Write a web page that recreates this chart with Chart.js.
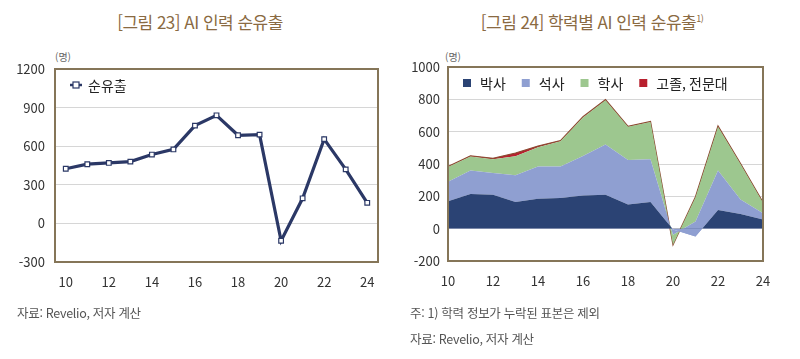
<!DOCTYPE html>
<html lang="ko">
<head>
<meta charset="utf-8">
<script src="https://cdn.jsdelivr.net/npm/chart.js@4.4.0/dist/chart.umd.min.js"></script>
<style>
  body { margin: 0; width: 800px; height: 359px; background: #fff; position: relative; overflow: hidden;
         font-family: "Noto Sans CJK KR", sans-serif; }
  .title { position: absolute; top: 9px; width: 400px; text-align: center; font-size: 17px; color: #8a6a42; letter-spacing: -0.5px; }
  .title sup { font-size: 9px; }
  .unit { position: absolute; top: 49px; font-size: 10px; color: #666; }
  .note { position: absolute; font-size: 12.5px; color: #555; letter-spacing: -0.3px; }
  .box { position: absolute; top: 40px; width: 400px; height: 280px; }
  canvas { display: block; }
</style>
</head>
<body>
<div class="title" style="left:0">[그림 23] AI 인력 순유출</div>
<div class="title" style="left:392px">[그림 24] 학력별 AI 인력 순유출<sup>1)</sup></div>
<div class="unit" style="left:55px">(명)</div>
<div class="unit" style="left:445px">(명)</div>
<div class="box" style="left:0"><canvas id="left" width="400" height="280"></canvas></div>
<div class="box" style="left:400px"><canvas id="right" width="400" height="280"></canvas></div>
<div class="note" style="left:17px; top:303px">자료: Revelio, 저자 계산</div>
<div class="note" style="left:410px; top:303px">주: 1) 학력 정보가 누락된 표본은 제외</div>
<div class="note" style="left:410px; top:329px">자료: Revelio, 저자 계산</div>
<script>
// 연도 (2010~2024)
const years = ['10', '11', '12', '13', '14', '15', '16', '17', '18', '19', '20', '21', '22', '23', '24'];

// [그림 23] 순유출
const netOutflow = [425, 460, 470, 480, 535, 575, 760, 840, 685, 690, -135, 195, 655, 420, 160];

// [그림 24] 학력별
const phd = [170, 215, 210, 165, 185, 190, 205, 210, 150, 165, -5, -48, 115, 90, 57];
const master = [120, 145, 135, 165, 200, 195, 245, 310, 275, 265, -32, 93, 245, 90, 38];
const bachelor = [92, 87, 85, 118, 118, 155, 238, 275, 205, 230, -63, 150, 270, 220, 65];
const highSchool = [3, 4, 5, 20, 8, 5, 5, 3, 3, 3, 0, 3, 5, 3, 3];

const leftTicks = { min: -300, max: 1200, step: 300 };
const rightTicks = { min: -200, max: 1000, step: 200 };

const FONT = '"Noto Sans CJK KR", sans-serif';
const FRAME = '#857558';

// 외곽 테두리
const framePlugin = {
    id: 'frame',
    afterDatasetsDraw(chart) {
        const { ctx, chartArea: a } = chart;
        ctx.save();
        ctx.strokeStyle = FRAME;
        ctx.lineWidth = 2;
        ctx.strokeRect(a.left, a.top, a.right - a.left, a.bottom - a.top);
        ctx.restore();
    }
};

// 범례 (순유출)
const lineLegend = {
    id: 'lineLegend',
    afterDraw(chart) {
        const { ctx, chartArea: a } = chart;
        const ds = chart.data.datasets[0];
        const x = a.left + 15, y = a.top + 16;
        ctx.save();
        ctx.strokeStyle = ds.borderColor;
        ctx.lineWidth = 2.5;
        ctx.beginPath(); ctx.moveTo(x, y); ctx.lineTo(x + 12, y); ctx.stroke();
        ctx.fillStyle = '#fff'; ctx.lineWidth = 1.2;
        ctx.fillRect(x + 3, y - 3, 6, 6); ctx.strokeRect(x + 3, y - 3, 6, 6);
        ctx.fillStyle = '#222';
        ctx.font = '14px ' + FONT;
        ctx.textBaseline = 'middle';
        ctx.fillText(ds.label, x + 18, y + 1);
        ctx.restore();
    }
};

// 범례 (학력별)
const boxLegend = {
    id: 'boxLegend',
    afterDraw(chart) {
        const { ctx, chartArea: a } = chart;
        let x = a.left + 15;
        const y = a.top + 16;
        ctx.save();
        ctx.font = '14px ' + FONT;
        ctx.textBaseline = 'middle';
        chart.data.datasets.forEach(ds => {
            ctx.fillStyle = ds.legendColor;
            ctx.fillRect(x, y - 4, 8, 8);
            ctx.fillStyle = '#222';
            ctx.fillText(ds.label, x + 17, y + 1);
            x += 17 + ctx.measureText(ds.label).width + 16;
        });
        ctx.restore();
    }
};

function evenLabels(value, index) {
    return index % 2 === 0 ? this.getLabelForValue(value) : '';
}
function plainNumber(value) {
    return String(value);
}

const tickFont = { family: FONT, size: 13 };

function xAxis(offset) {
    return {
        offset,
        grid: { display: false, drawTicks: false },
        border: { display: false },
        ticks: { autoSkip: false, maxRotation: 0, padding: 12, color: '#333', font: tickFont, callback: evenLabels },
        afterFit(s) { s.height = 30; }
    };
}

new Chart(document.getElementById('left'), {
    type: 'line',
    data: {
        labels: years,
        datasets: [{
            label: '순유출',
            data: netOutflow,
            borderColor: '#2b3866',
            borderWidth: 3.2,
            pointStyle: 'rect',
            pointRadius: 3.3,
            pointBackgroundColor: '#fff',
            pointBorderColor: '#2b3866',
            pointBorderWidth: 1.2,
            tension: 0
        }]
    },
    options: {
        responsive: false,
        animation: false,
        layout: { padding: { top: 29, right: 22, bottom: 28, left: 0 } },
        plugins: { legend: { display: false }, tooltip: { enabled: false } },
        scales: {
            x: xAxis(true),
            y: {
                min: leftTicks.min, max: leftTicks.max,
                grid: { color: '#d6d6d6', lineWidth: 1, drawTicks: false },
                border: { display: false },
                ticks: { stepSize: leftTicks.step, padding: 10, color: '#333', font: tickFont, callback: plainNumber },
                afterFit(s) { s.width = 55; }
            }
        }
    },
    plugins: [framePlugin, lineLegend]
});

function area(label, data, color, fill, border) {
    return {
        label, data, fill,
        legendColor: color,
        backgroundColor: color,
        borderColor: border || color,
        borderWidth: border ? 1.2 : 0,
        pointRadius: 0,
        tension: 0
    };
}

const navy = '#2b4374', lightBlue = '#8f9fd1';

new Chart(document.getElementById('right'), {
    type: 'line',
    data: {
        labels: years,
        datasets: [
            // 음수 구간은 석사 영역에 가려지므로 below 색을 석사 색으로
            area('박사', phd, navy, { target: 'origin', above: navy, below: lightBlue }),
            area('석사', master, lightBlue, '-1'),
            area('학사', bachelor, '#9dc78f', '-1'),
            area('고졸, 전문대', highSchool, '#b8202e', '-1', '#8c4a32')
        ]
    },
    options: {
        responsive: false,
        animation: false,
        layout: { padding: { top: 27, right: 37, bottom: 29, left: 0 } },
        plugins: { legend: { display: false }, tooltip: { enabled: false } },
        scales: {
            x: xAxis(false),
            y: {
                stacked: 'single',
                min: rightTicks.min, max: rightTicks.max,
                grid: { color: '#d6d6d6', lineWidth: 1, drawTicks: false },
                border: { display: false },
                ticks: { stepSize: rightTicks.step, padding: 8, color: '#333', font: tickFont, callback: plainNumber },
                afterFit(s) { s.width = 48; }
            }
        }
    },
    plugins: [framePlugin, boxLegend]
});
</script>
</body>
</html>
